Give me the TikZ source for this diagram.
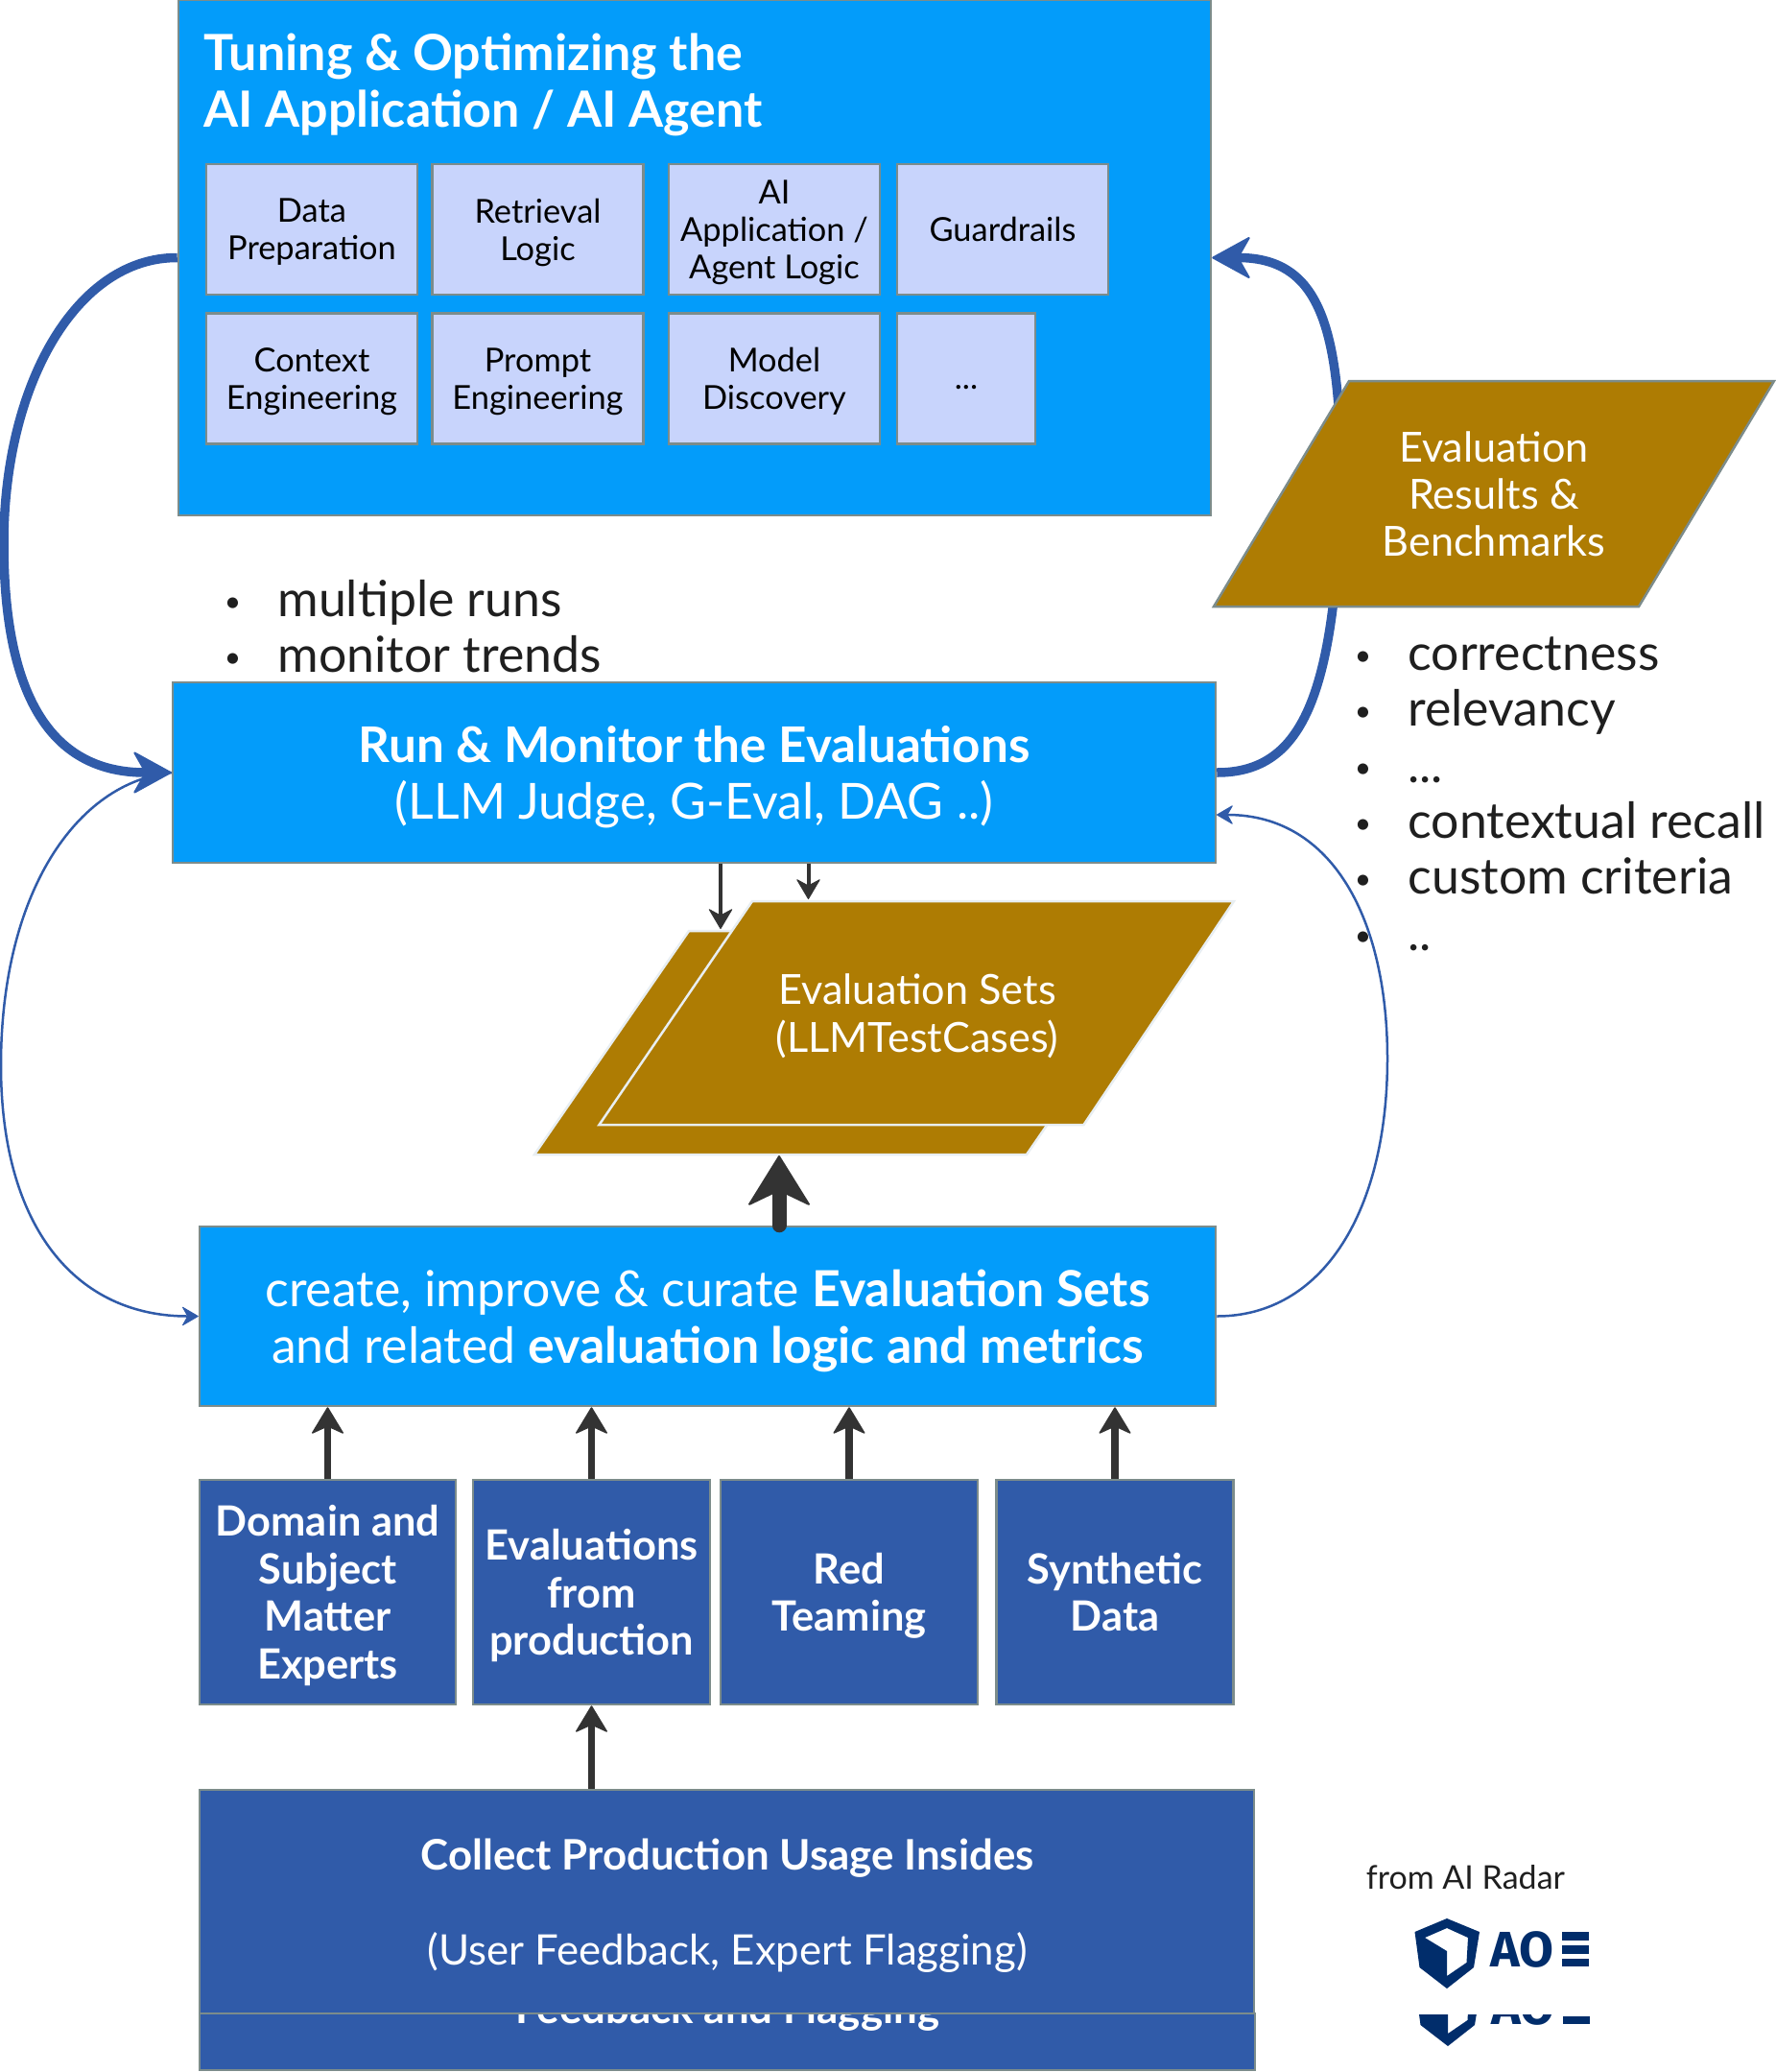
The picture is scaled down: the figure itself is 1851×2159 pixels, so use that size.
\documentclass[tikz,border=0pt]{standalone}
\usepackage{fontspec}
\setmainfont{Lato}
\newfontfamily\logofont{Fira Sans}
\usepackage{xcolor}
\usepackage{tikz}
\usetikzlibrary{positioning,arrows.meta}
\definecolor{skyfill}{HTML}{039CFA}
\definecolor{navyfill}{HTML}{305BA9}
\definecolor{goldfill}{HTML}{AE7C03}
\definecolor{lavfill}{HTML}{C8D4FC}
\definecolor{edgegrey}{HTML}{7C8C8B}
\definecolor{edgepale}{HTML}{E8EEF2}
\definecolor{inkdark}{HTML}{1F1F1F}
\definecolor{arrowdark}{HTML}{333333}
\definecolor{logoblue}{HTML}{012D6B}

\newcommand{\listdot}{\makebox[27.75pt][l]{\raisebox{2.3pt}{\fontsize{15}{15}\selectfont •}}}

\tikzset{
    boxbase/.style={
        rectangle,
        draw=edgegrey,
        line width=1.25pt,
        inner sep=0pt,
        text depth=0pt,
        align=center
    },
    skybox/.style={
        boxbase,
        fill=skyfill,
        text=white,
        font=\fontsize{25.9}{29.5}\selectfont
    },
    navybox/.style={
        boxbase,
        fill=navyfill,
        text=white,
        font=\bfseries\fontsize{21.7}{24.8}\selectfont
    },
    innerbox/.style={
        boxbase,
        fill=lavfill,
        text=black,
        minimum width=110pt,
        minimum height=68pt,
        font=\fontsize{17.2}{19.6}\selectfont
    },
    parashape/.style={
        line width=1.25pt,
        fill=goldfill
    },
    paratext/.style={
        inner sep=0pt,
        text depth=0pt,
        text=white,
        align=center,
        font=\fontsize{21.6}{24.7}\selectfont
    },
    listitem/.style={
        anchor=base west,
        inner sep=0pt,
        text=inkdark,
        font=\fontsize{25.9}{29}\selectfont
    },
    bigcurve/.style={
        line width=4.75pt,
        color=navyfill,
        -{Stealth[length=21pt,width=23pt,inset=6.5pt,line width=1pt,round]}
    },
    thincurve/.style={
        line width=1.25pt,
        color=navyfill,
        -{Stealth[length=9pt,width=10.5pt,inset=3pt,line width=.5pt,round]}
    },
    smallarrow/.style={
        line width=2pt,
        color=arrowdark,
        -{Stealth[length=11pt,width=13pt,inset=3.5pt,line width=.5pt,round]}
    },
    darkarrow/.style={
        line width=3.75pt,
        color=arrowdark,
        -{Stealth[length=14.5pt,width=17.5pt,inset=4pt,line width=.75pt,round]}
    },
    hugearrow/.style={
        line width=7.5pt,
        line cap=round,
        color=arrowdark,
        -{Stealth[length=27pt,width=33.5pt,inset=8pt,line width=1pt,round]}
    },
    aoelogo/.pic={
        \fill[logoblue,even odd rule]
            (0,-40) -- (34,-26) -- (28,11) -- (0,33) -- (-28.5,11) -- (-33.5,-26) -- cycle
            (0,-30) -- (22,-20) -- (20.5,6) -- (0,20) -- (0,-6) -- (-23,-20) -- cycle;
        \node[anchor=base west, inner sep=0pt, text=logoblue,
            font=\logofont\bfseries\fontsize{26}{26}\selectfont] (-word) at (45,10) {AO};
        \fill[logoblue] (119.5,-26) rectangle (147.5,-17);
        \fill[logoblue] (119.5,-12) rectangle (147.5,-3);
        \fill[logoblue] (119.5,2) rectangle (147.5,10);
    }
}

\begin{document}
\begin{tikzpicture}[x=.5pt, y=-.5pt]
    \useasboundingbox (0,0) rectangle (1851,2159);

    \node[skybox, minimum width=538pt, minimum height=268.5pt] (tune) at (724,268.5) {};
    \node[anchor=base west, inner sep=0pt, text=white, align=left,
        font=\bfseries\fontsize{26}{29.5}\selectfont] (tunetitle) at (212,132)
        {Tuning \& Optimizing the\\AI Application / AI Agent};

    \node[innerbox] (data) at (325,239) {Data\\Preparation};
    \node[innerbox] (retrieval) [right of=data, node distance=117.75pt] {Retrieval\\Logic};
    \node[innerbox] (logic) [right of=retrieval, node distance=123.25pt] {AI\\Application /\\Agent Logic};
    \node[innerbox] (guard) [right of=logic, node distance=119pt] {Guardrails};
    \node[innerbox] (context) [below of=data, node distance=77.75pt] {Context\\Engineering};
    \node[innerbox] (prompt) [right of=context, node distance=117.75pt] {Prompt\\Engineering};
    \node[innerbox] (model) [right of=prompt, node distance=123.25pt] {Model\\Discovery};
    \node[innerbox, minimum width=72pt, text height=11pt] (more) [right of=model, node distance=100pt] {...};

    \node[listitem] (runs) at (233.5,642) {\listdot multiple runs};
    \node[listitem] (trends) at (233.5,700) {\listdot monitor trends};

    \node[skybox, minimum width=543.5pt, minimum height=94pt] (run) at (723.5,805)
        {{\fontsize{25.6}{29.5}\selectfont\bfseries Run \& Monitor the Evaluations}\\(LLM Judge, G-Eval, DAG ..)};
    \node[skybox, minimum width=529.5pt, minimum height=93.5pt] (create) at (737.5,1371.5)
        {create, improve \& curate \textbf{Evaluation Sets}\\and related \textbf{evaluation logic and metrics}};

    \node[navybox, minimum width=133.5pt, minimum height=117pt] (domain) at (341.5,1659)
        {Domain and\\Subject\\Matter\\Experts};
    \node[navybox, minimum width=123.5pt, minimum height=117pt] (prod) [right of=domain, node distance=137.5pt]
        {Evaluations\\from\\production};
    \node[navybox, minimum width=134pt, minimum height=117pt] (red) [right of=prod, node distance=134.25pt]
        {Red\\Teaming};
    \node[navybox, minimum width=123.5pt, minimum height=117pt] (synth) [right of=red, node distance=138.5pt]
        {Synthetic\\Data};

    \node[navybox, minimum width=550pt, minimum height=29.5pt] (feedbox) at (758,2127.5) {};
    \node[anchor=base, inner sep=0pt, text=white, font=\bfseries\fontsize{21.9}{25}\selectfont] (feedtext) at (758,2108)
        {Feedback and Flagging};
    \node[navybox, minimum width=549.5pt, minimum height=116.5pt] (collect) at (757.5,1981.5) {};
    \node[anchor=base, inner sep=0pt, text=white, font=\bfseries\fontsize{21.9}{25}\selectfont] (collecttitle) at (758,1948)
        {Collect Production Usage Insides};
    \node[anchor=base, inner sep=0pt, text=white, font=\fontsize{21.9}{25}\selectfont] (collectsub) at (758,2047.5)
        {(User Feedback, Expert Flagging)};

    \coordinate (runin) at (1268,849);
    \draw[thincurve] (run.west) .. controls (80,815) and (1,930) .. (1,1110)
        .. controls (1,1280) and (80,1371.5) .. (create.west);
    \draw[bigcurve] (tune.west) .. controls (80,268) and (4,400) .. (4,566)
        .. controls (4,720) and (50,805) .. (run.west);
    \draw[bigcurve] (run.east) .. controls (1360,805) and (1392,720) .. (1398,500)
        .. controls (1396,350) and (1380,268.5) .. (tune.east);

    \draw[parashape, draw=edgegrey] (1265,632) -- (1406,397) -- (1849,397) -- (1708,632) -- cycle;
    \node[paratext] (results) at (1557,514.5) {Evaluation\\Results \&\\Benchmarks};
    \draw[parashape, draw=edgepale] (557,1203) -- (718,970) -- (1231,970) -- (1070,1203) -- cycle;
    \draw[parashape, draw=edgepale] (624.5,1172) -- (784,939) -- (1286,939) -- (1129.5,1172) -- cycle;
    \node[paratext] (evalfront) at (956,1055.5) {Evaluation Sets\\(LLMTestCases)};

    \coordinate (backin) at (751,968);
    \coordinate (frontin) at (842.5,937);
    \coordinate (backout) at (812,1204);
    \draw[smallarrow] (run.south -| backin) -- (backin);
    \draw[smallarrow] (run.south -| frontin) -- (frontin);
    \draw[hugearrow] (create.north -| backout) -- (backout);
    \draw[darkarrow] (domain.north) -- (domain.north |- create.south);
    \draw[darkarrow] (prod.north) -- (prod.north |- create.south);
    \draw[darkarrow] (red.north) -- (red.north |- create.south);
    \draw[darkarrow] (synth.north) -- (synth.north |- create.south);
    \draw[darkarrow] (collect.north -| prod.south) -- (prod.south);

    \node[listitem] (correct) at (1411.5,698) {\listdot correctness};
    \node[listitem] (relevant) at (1411.5,756) {\listdot relevancy};
    \node[listitem] (dots) at (1411.5,815) {\listdot ...};
    \node[listitem] (recall) at (1411.5,873) {\listdot contextual recall};
    \node[listitem] (custom) at (1411.5,931) {\listdot custom criteria};
    \node[listitem] (twodots) at (1411.5,990) {\listdot ..};

    \coordinate (logotop) at (1508,2039);
    \draw[thincurve] (create.east) .. controls (1380,1371.5) and (1446,1260) .. (1446,1103)
        .. controls (1446,960) and (1390,849) .. (runin);

    \node[anchor=base west, inner sep=0pt, text=inkdark, font=\fontsize{17}{20}\selectfont] (radar) at (1423.5,1968)
        {from AI Radar};
    \pic (logoa) at (logotop) {aoelogo};
    \begin{scope}
        \clip (1450,2099) rectangle (1700,2159);
        \pic (logob) at (1509,2099) {aoelogo};
    \end{scope}
\end{tikzpicture}
\end{document}
